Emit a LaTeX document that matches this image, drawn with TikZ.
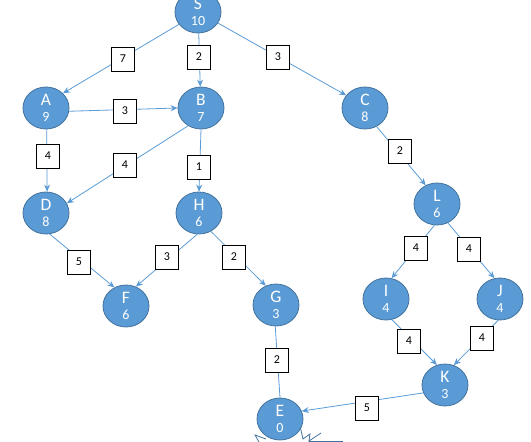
\documentclass[tikz,border=0pt]{standalone}
\usepackage{fontspec}
\setmainfont{Carlito}
\usetikzlibrary{shapes.geometric,arrows.meta}
\definecolor{nodefill}{HTML}{5B9BD5}
\definecolor{nodeline}{HTML}{41719C}
\definecolor{edgecol}{HTML}{5B9BD5}
\tikzset{
 vert/.style={ellipse, fill=nodefill, draw=nodeline, line width=0.8pt, minimum width=46pt, minimum height=42pt, inner sep=0pt, text=white, align=center, font=\fontsize{17.5}{15}\selectfont},
 wbox/.style={draw=black, fill=white, line width=0.9pt, minimum width=23pt, minimum height=24pt, inner sep=0pt, font=\fontsize{12}{12}\selectfont},
 edge/.style={draw=edgecol, line width=0.8pt, -{Stealth[length=7pt,width=6pt]}},
 plainedge/.style={draw=edgecol, line width=0.8pt},
 zig/.style={draw=nodeline, line width=0.8pt},
}
\newcommand{\nlab}[2]{#1\\[1.5pt]{\fontsize{14}{14}\selectfont #2}}
\begin{document}
\begin{tikzpicture}[x=1pt,y=-1pt]
\useasboundingbox (0,0) rectangle (531,442);
% burst behind E
\draw[zig] (266,439) -- (255,435) -- (259,442);
\draw[zig] (300,426) -- (303,439) -- (310,434) -- (309,441) -- (321,433);
\draw[zig] (309,441) -- (343,441);
% nodes
\node[vert] (S) at (198,12) {\nlab{S}{10}};
\node[vert] (A) at (46,108) {\nlab{A}{9}};
\node[vert] (B) at (201,108) {\nlab{B}{7}};
\node[vert] (C) at (365,108) {\nlab{C}{8}};
\node[vert] (D) at (46,213) {\nlab{D}{8}};
\node[vert] (H) at (199,213) {\nlab{H}{6}};
\node[vert] (F) at (126,306) {\nlab{F}{6}};
\node[vert] (G) at (276,305) {\nlab{G}{3}};
\node[vert] (L) at (437,204) {\nlab{L}{6}};
\node[vert] (I) at (386,299) {\nlab{I}{4}};
\node[vert] (J) at (500,299) {\nlab{J}{4}};
\node[vert] (K) at (445,385) {\nlab{K}{3}};
\node[vert] (E) at (280,419) {\nlab{E}{0}};
% edges
\draw[edge] (S.213) -- (A.41);
\draw[edge] (S.-88) -- (B.92);
\draw[edge] (S.-29) -- (C.146);
\draw[edge] (A.-8) -- (B.180);
\draw[edge] (A.-88) -- (D.87);
\draw[edge] (B.234) -- (D.25);
\draw[edge] (B.-90) -- (H.90);
\draw[edge] (C.-58) -- (L.121);
\draw[edge] (D.-80) -- (F.122);
\draw[edge] (H.-95) -- (F.63);
\draw[edge] (H.-57) -- (G.118);
\draw[edge] (L.-97) -- (I.75);
\draw[edge] (L.-60) -- (J.105);
\draw[edge] (I.-74) -- (K.112);
\draw[edge] (J.-95) -- (K.66);
\draw[plainedge] (G.-92) -- (E.90);
\draw[edge] (K.200) -- (E.20);
% weights
\node[wbox] (w1) at (123,59) {7};
\node[wbox] (w2) at (199,57) {2};
\node[wbox] (w3) at (278,57) {3};
\node[wbox] (w4) at (125,111) {3};
\node[wbox] (w5) at (48,156) {4};
\node[wbox] (w6) at (125,165) {4};
\node[wbox] (w7) at (199,167) {1};
\node[wbox] (w8) at (400,151) {2};
\node[wbox] (w9) at (79,262) {5};
\node[wbox] (w10) at (167,257) {3};
\node[wbox] (w11) at (234,257) {2};
\node[wbox] (w12) at (416,248) {4};
\node[wbox] (w13) at (469,249) {4};
\node[wbox] (w14) at (409,341) {4};
\node[wbox] (w15) at (482,338) {4};
\node[wbox] (w16) at (277,360) {2};
\node[wbox] (w17) at (367,408) {5};
\end{tikzpicture}
\end{document}
